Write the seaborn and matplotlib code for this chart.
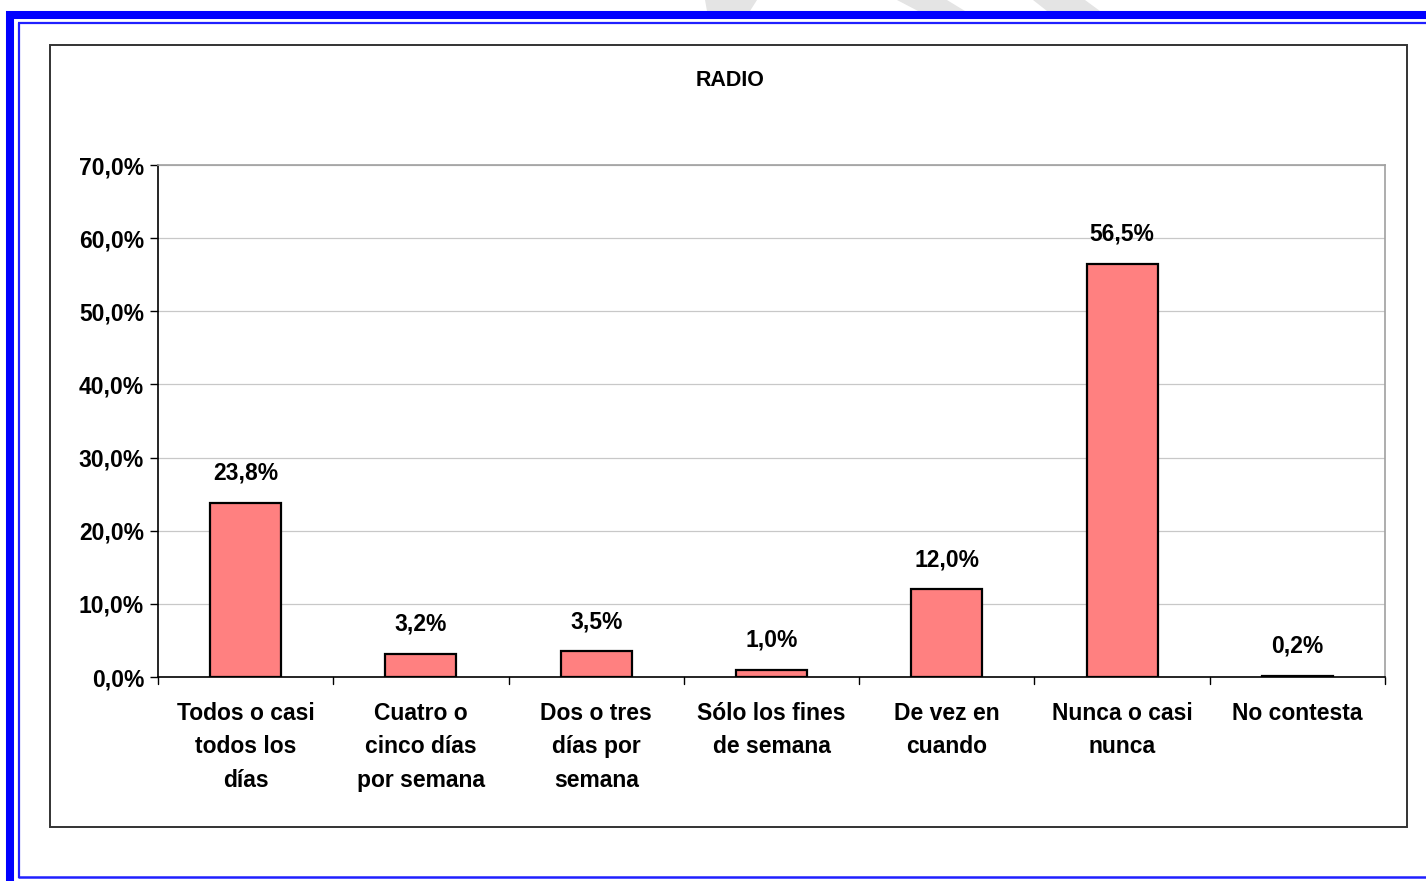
import matplotlib
matplotlib.use("Agg")
import matplotlib.pyplot as plt
import seaborn as sns
import pandas as pd
from matplotlib.lines import Line2D
from matplotlib.patches import Rectangle, Polygon

categories = ["Todos o casi\ntodos los\ndías", "Cuatro o\ncinco días\npor semana",
              "Dos o tres\ndías por\nsemana", "Sólo los fines\nde semana",
              "De vez en\ncuando", "Nunca o casi\nnunca", "No contesta"]
values = [23.8, 3.2, 3.5, 1.0, 12.0, 56.5, 0.2]
yticks = [0, 10, 20, 30, 40, 50, 60, 70]

sns.set_theme(style="white")
plt.rcParams["font.family"] = ["Liberation Sans", "DejaVu Sans"]
plt.rcParams["text.color"] = "black"

df = pd.DataFrame({"cat": categories, "val": values})

fig = plt.figure(figsize=(14.26, 8.81), dpi=100)
fig.patch.set_facecolor("white")
W, H = 1426, 881

def fx(px): return px / W
def fy(py): return 1 - py / H

# faint watermark pieces peeking at the top edge
for pts in [[(705, 0), (757, 0), (750, 11), (707, 11)],
            [(897, 0), (947, 0), (965, 11), (918, 11)],
            [(1033, 0), (1085, 0), (1100, 11), (1047, 11)]]:
    fig.add_artist(Polygon([(fx(x), fy(y)) for x, y in pts], closed=True,
                           facecolor="#E4E4E4", edgecolor="none", transform=fig.transFigure))

# blue page border
kw = dict(transform=fig.transFigure, solid_capstyle="butt")
fig.add_artist(Line2D([fx(6), 1], [fy(15), fy(15)], color="#0000FF", lw=5.8, **kw))
fig.add_artist(Line2D([fx(10), fx(10)], [0, fy(11)], color="#0000FF", lw=5.8, **kw))
fig.add_artist(Line2D([fx(18), 1], [fy(23), fy(23)], color="#2020FF", lw=1.6, **kw))
fig.add_artist(Line2D([fx(18.5), fx(18.5)], [fy(878), fy(22.5)], color="#2020FF", lw=1.6, **kw))
fig.add_artist(Line2D([fx(18), 1], [fy(877), fy(877)], color="#2020FF", lw=1.8, **kw))

# chart frame
fig.add_artist(Rectangle((fx(50), fy(827)), fx(1407) - fx(50), fy(45) - fy(827),
                         fill=False, edgecolor="#333333", lw=1.4, transform=fig.transFigure))

ax = fig.add_axes([fx(158), fy(677), fx(1385) - fx(158), fy(165) - fy(677)])
sns.barplot(data=df, x="cat", y="val", color="#FF8080", edgecolor="black",
            linewidth=1.6, width=0.405, saturation=1, ax=ax)

ax.set_ylim(0, 70)
ax.set_xlim(-0.5, len(categories) - 0.5)
ax.set_yticks(yticks)
ax.set_yticklabels([f"{t:.1f}".replace(".", ",") + "%" for t in yticks],
                   fontsize=16.5, fontweight="bold")
ax.yaxis.grid(True, color="#C8C8C8", lw=0.9)
ax.set_axisbelow(True)

ax.set_xticks(range(len(categories)))
ax.set_xticklabels(categories, fontsize=16.5, fontweight="bold", linespacing=1.58)
ax.tick_params(axis="x", length=0, pad=18, labelcolor="black")
ax.tick_params(axis="y", length=6, width=1, color="black", direction="out", left=True,
               pad=4, labelcolor="black")
for b in range(len(categories) + 1):
    ax.plot([b - 0.5, b - 0.5], [0, -1.0], color="black", lw=1, clip_on=False)

ax.set_xlabel("")
ax.set_ylabel("")
for side in ["left", "bottom"]:
    ax.spines[side].set_color("black")
    ax.spines[side].set_linewidth(1.2)
for side in ["top", "right"]:
    ax.spines[side].set_visible(True)
    ax.spines[side].set_color("#A0A0A0")
    ax.spines[side].set_linewidth(1.2)

for i, v in enumerate(values):
    ax.annotate(f"{v:.1f}".replace(".", ",") + "%", (i, v), xytext=(0, 13),
                textcoords="offset points", ha="center", va="bottom",
                fontsize=16.5, fontweight="bold", color="black")

fig.text(fx(730), fy(81), "RADIO", ha="center", va="center", fontsize=15.5,
         fontweight="bold", color="black")

fig.savefig("out.png", dpi=100)
